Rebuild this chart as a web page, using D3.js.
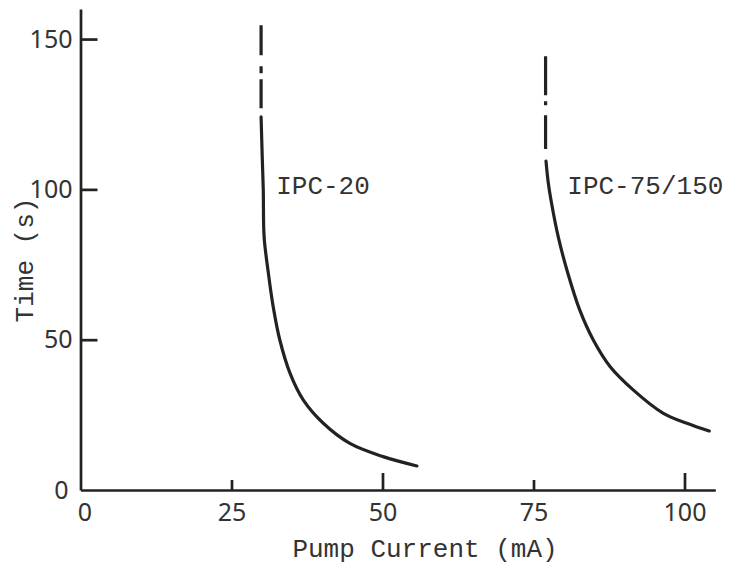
<!DOCTYPE html>
<html>
<head>
<meta charset="utf-8">
<script src="https://cdn.jsdelivr.net/npm/d3@7"></script>
<style>
  html, body { margin: 0; padding: 0; background: #fff; }
  svg { display: block; }
</style>
</head>
<body>
<div id="chart"></div>
<script>
// values
const seriesNames = ['IPC-20', 'IPC-75/150'];

// extrapolated (dash-dot) part at the top of each curve
const ipc20Dashed = [[29.9, 154.6], [29.9, 127.0]];
const ipc75Dashed = [[77.0, 144.3], [77.0, 113.4]];

// measured part
const ipc20Solid = [
  [29.9, 124.1], [30.1, 110.0], [30.26, 99.8], [30.4, 84.2], [31.1, 72.2], [31.9, 61.0],
  [33.0, 49.9], [34.7, 38.8], [36.9, 29.9], [40.2, 22.2], [44.6, 15.5], [50.1, 11.1], [55.7, 8.0]
];
const ipc75Solid = [
  [77.07, 109.4], [77.45, 102.1], [77.9, 96.4], [79.1, 84.2], [80.7, 72.0], [82.65, 59.9],
  [84.9, 49.9], [87.7, 41.0], [91.5, 33.3], [96.5, 25.5], [100.4, 22.2], [104.1, 19.6]
];

const xTicks = [0, 25, 50, 75, 100];
const yTicks = [0, 50, 100, 150];
const xTitle = 'Pump Current (mA)';
const yTitle = 'Time (s)';

const width = 730, height = 565;
const ink = '#222';
const textInk = '#333';
const numFont = '"Noto Sans", "Open Sans", sans-serif';
const monoFont = '"Liberation Mono", "DejaVu Sans Mono", monospace';

const svg = d3.select('#chart')
  .append('svg')
  .attr('width', width)
  .attr('height', height)
  .attr('viewBox', [0, 0, width, height]);

const x = d3.scaleLinear().domain([0, 105.1]).range([80.5, 715.3]);
const y = d3.scaleLinear().domain([0, 160]).range([490, 9]);

// axes, ticks point inward like the original
const xAxis = svg.append('g')
  .attr('transform', `translate(0,${y(0)})`)
  .call(d3.axisBottom(x).tickValues(xTicks).tickSize(-17).tickSizeOuter(0).tickPadding(13));

xAxis.selectAll('.tick line')
  .attr('y2', d => d === 0 ? 0 : (d % 50 === 0 ? -17 : -10));

const yAxis = svg.append('g')
  .attr('transform', `translate(${x(0)},0)`)
  .call(d3.axisLeft(y).tickValues(yTicks).tickSize(-17).tickSizeOuter(0).tickPadding(8));

yAxis.selectAll('.tick line')
  .attr('x2', d => d === 0 ? 0 : 17);

[xAxis, yAxis].forEach(g => {
  g.select('.domain').attr('stroke', ink).attr('stroke-width', 2.7);
  g.selectAll('.tick line').attr('stroke', ink).attr('stroke-width', 2.7);
  g.selectAll('.tick text')
    .attr('fill', textInk)
    .attr('font-family', numFont)
    .attr('font-size', 25);
});

xAxis.selectAll('.tick text').filter(d => d === 0).attr('dx', 4);
yAxis.selectAll('.tick text').filter(d => d === 0).attr('dx', -4);

// curves
const line = d3.line()
  .x(d => x(d[0]))
  .y(d => y(d[1]))
  .curve(d3.curveCatmullRom.alpha(0.5));

const straight = d3.line()
  .x(d => x(d[0]))
  .y(d => y(d[1]));

const curves = [
  { solid: ipc20Solid, dashed: ipc20Dashed, dash: '30,11,7,6,29,200' },
  { solid: ipc75Solid, dashed: ipc75Dashed, dash: '39,6,4,10,34,200' }
];

const plot = svg.append('g')
  .attr('fill', 'none')
  .attr('stroke', ink)
  .attr('stroke-width', 3.2);

curves.forEach(c => {
  plot.append('path')
    .attr('d', line(c.solid))
    .attr('stroke-linecap', 'round');
  plot.append('path')
    .attr('d', straight(c.dashed))
    .attr('stroke-dasharray', c.dash);
});

// curve labels
const labelSpots = [[32.4, 98.3], [80.6, 98.3]];
svg.append('g')
  .selectAll('text')
  .data(seriesNames)
  .join('text')
  .attr('x', (d, i) => x(labelSpots[i][0]))
  .attr('y', (d, i) => y(labelSpots[i][1]))
  .attr('font-family', monoFont)
  .attr('font-size', 26)
  .attr('fill', textInk)
  .text(d => d);

// axis titles
svg.append('text')
  .attr('x', 425)
  .attr('y', 557)
  .attr('text-anchor', 'middle')
  .attr('font-family', monoFont)
  .attr('font-size', 26)
  .attr('fill', textInk)
  .text(xTitle);

svg.append('text')
  .attr('transform', 'translate(33,260) rotate(-90)')
  .attr('text-anchor', 'middle')
  .attr('font-family', monoFont)
  .attr('font-size', 26)
  .attr('fill', textInk)
  .text(yTitle);
</script>
</body>
</html>
